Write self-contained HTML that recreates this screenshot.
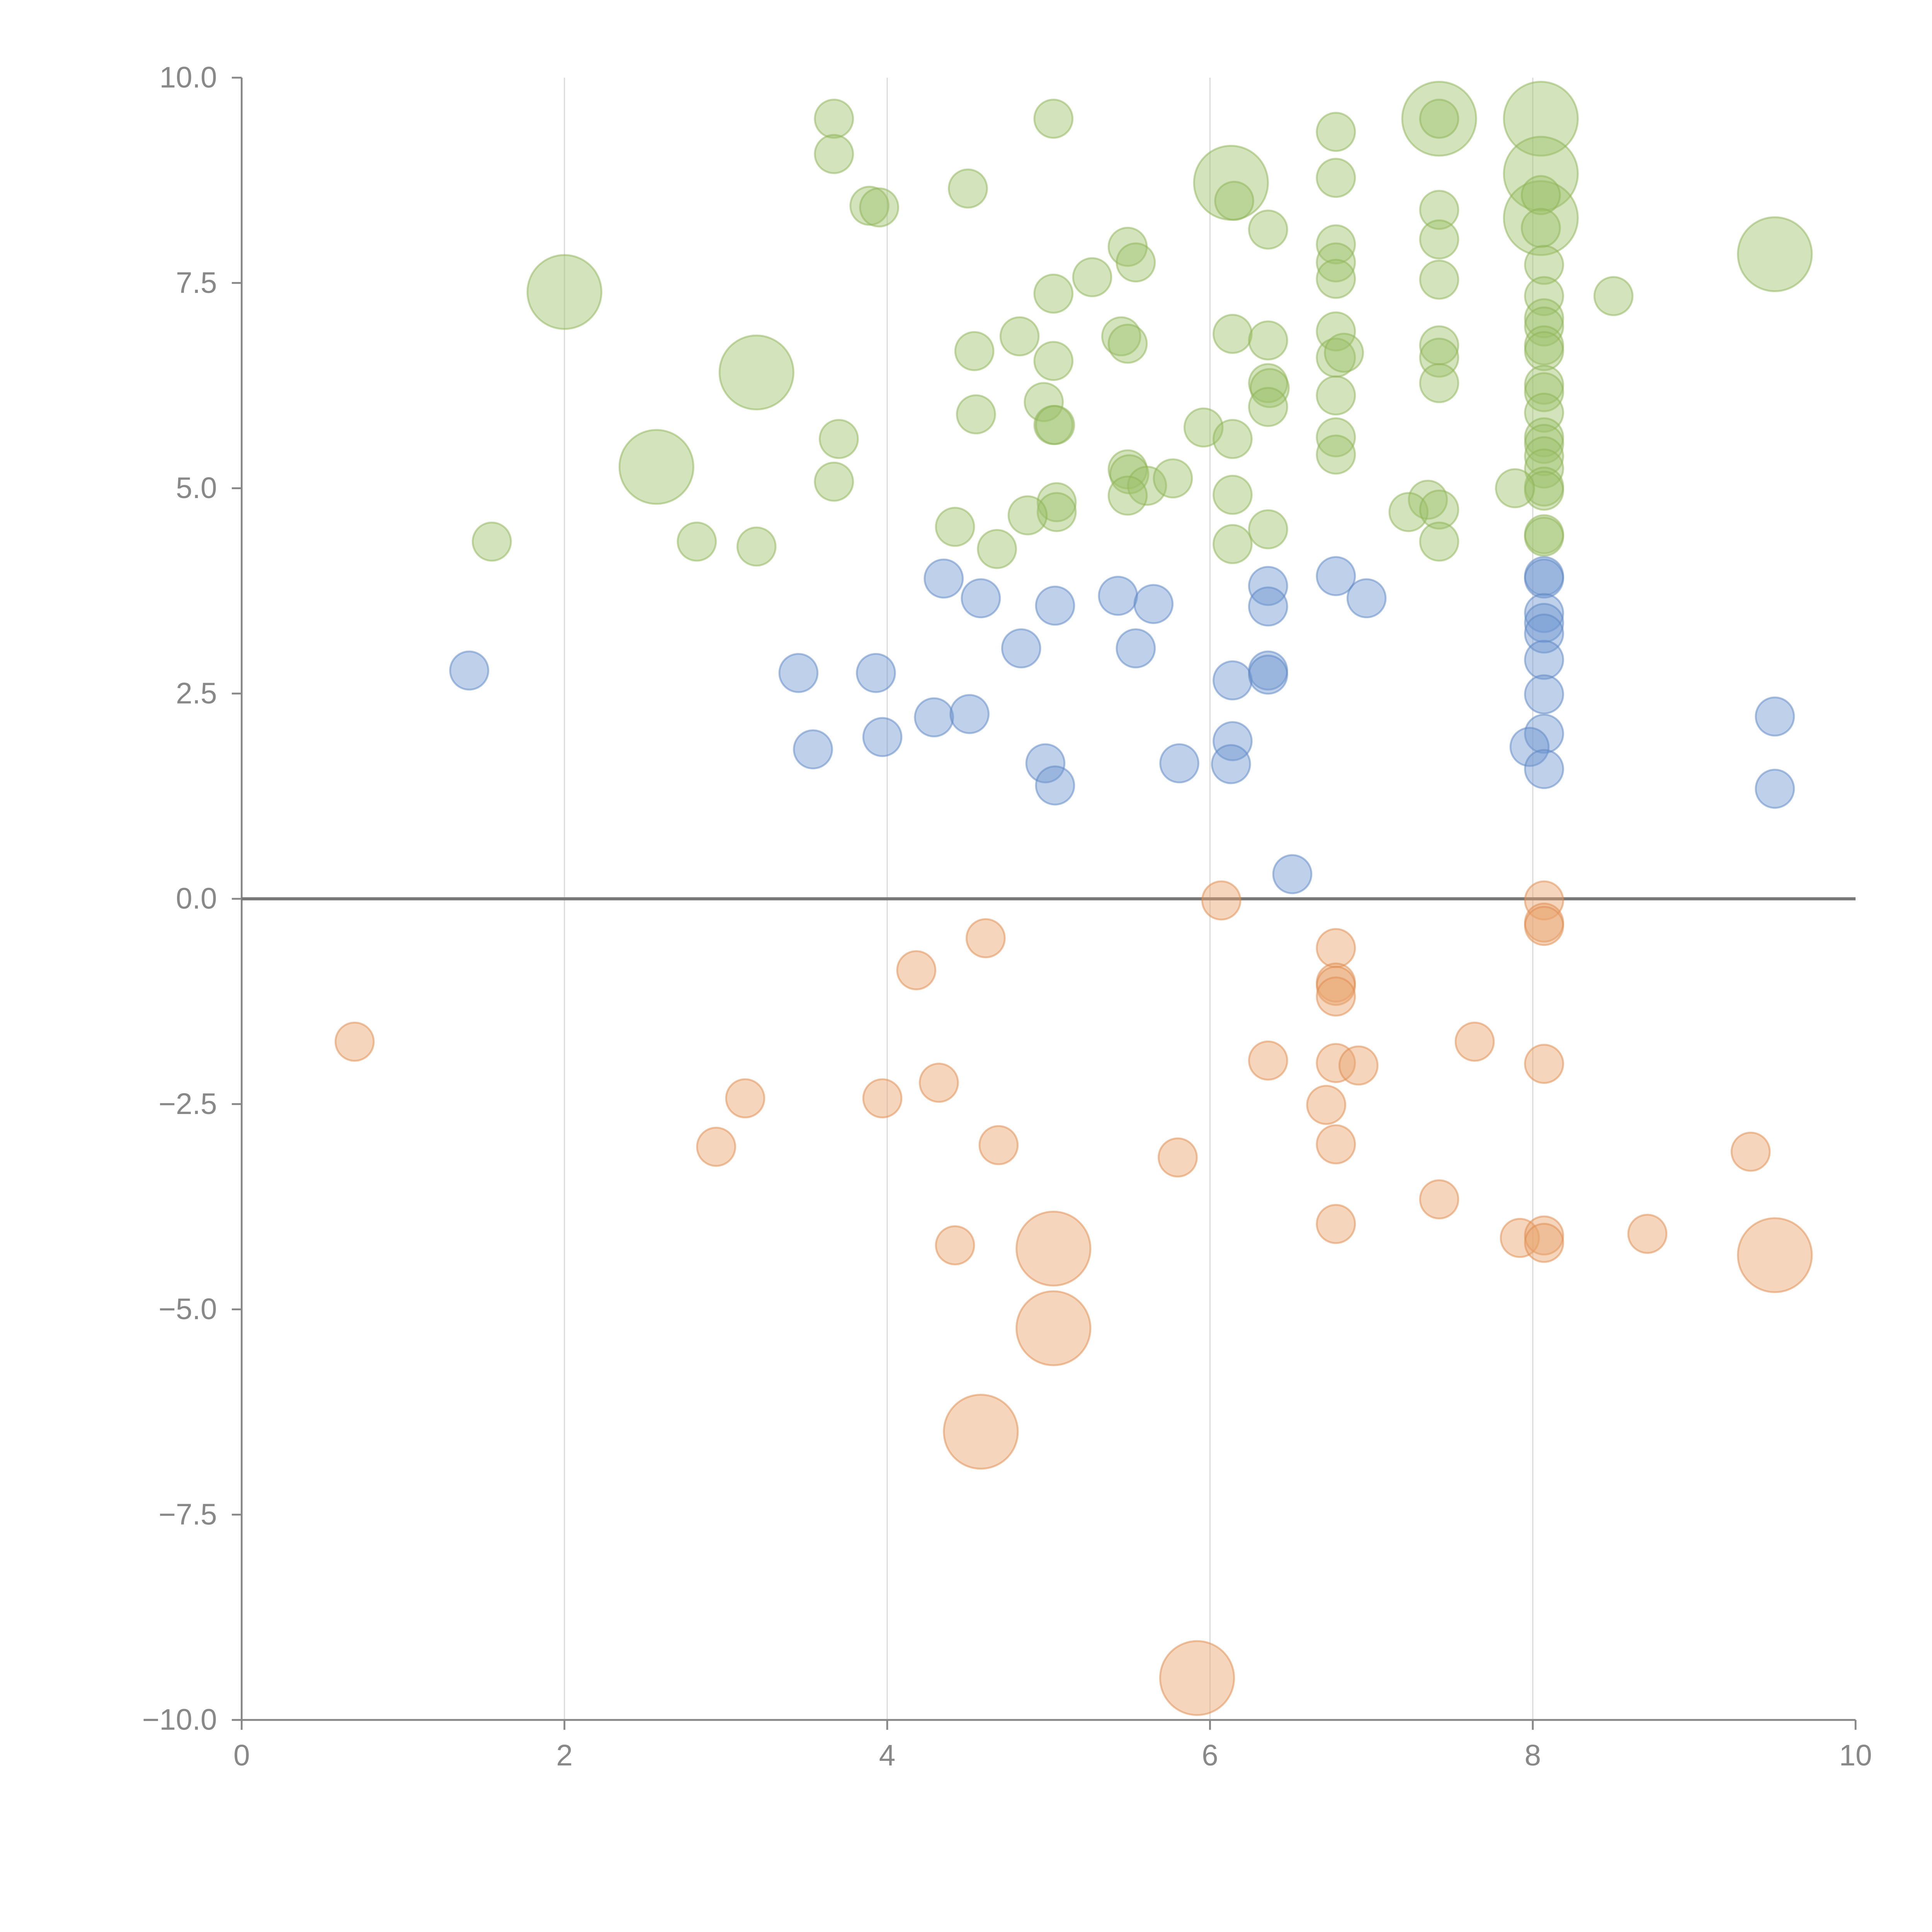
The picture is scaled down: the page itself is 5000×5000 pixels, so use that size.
<!DOCTYPE html>
<html><head><meta charset="utf-8">
<style>html,body{margin:0;padding:0;background:#fff;}svg{display:block;}</style>
</head><body>
<svg id="chart" xmlns="http://www.w3.org/2000/svg" width="5000" height="5000" viewBox="0 0 1567 1567">
<rect width="1567" height="1567" fill="#fff"/>
<g id="grid"></g>
<g id="axes"></g>
<g id="marks"></g>
</svg>
<script>
const xTicks=[0,2,4,6,8,10];
const yTicks=[-10,-7.5,-5,-2.5,0,2.5,5,7.5,10];
const yTickLabels=["\u221210.0","\u22127.5","\u22125.0","\u22122.5","0.0","2.5","5.0","7.5","10.0"];
const greenX=[3.67,3.67,5.03,4.5,3.89,3.95,6.78,7.42,7.42,8.05,6.13,6.15,6.78,8.05,8.05,7.42,6.36,7.42,6.78,8.05,8.05,5.49,5.54,6.78,6.78,7.42,8.07,9.5,2.0,5.03,5.27,8.5,8.07,8.07,8.07,8.07,8.07,8.07,8.07,8.07,8.07,8.07,8.07,8.07,8.07,8.07,8.07,8.07,3.19,2.57,4.54,4.82,5.45,5.49,5.03,6.14,6.36,6.78,6.78,6.83,7.42,7.42,7.42,6.36,6.37,6.36,6.78,4.97,4.55,5.03,5.04,5.96,6.14,6.78,6.78,3.7,3.67,5.49,5.5,5.61,5.77,5.05,5.05,4.87,5.49,6.14,7.89,7.35,7.23,7.42,7.42,6.14,6.36,4.42,4.68,3.19,2.82,1.55];
const greenY=[9.5,9.07,9.5,8.65,8.44,8.42,9.34,9.5,9.5,9.5,8.72,8.5,8.78,8.83,8.29,8.39,8.15,8.03,7.97,8.57,8.17,7.94,7.75,7.75,7.55,7.54,7.72,7.85,7.39,7.37,7.57,7.34,7.34,7.07,6.97,6.74,6.67,6.26,6.17,5.92,5.62,5.54,5.39,5.24,5.02,4.97,4.44,4.41,6.41,5.26,6.67,6.85,6.85,6.76,6.55,6.88,6.8,6.91,6.59,6.65,6.74,6.59,6.28,6.28,6.22,5.99,6.13,6.05,5.9,5.77,5.77,5.74,5.6,5.62,5.41,5.6,5.08,5.23,5.17,5.03,5.12,4.83,4.71,4.67,4.91,4.92,5.0,4.86,4.71,4.74,4.35,4.32,4.5,4.53,4.26,4.29,4.35,4.35];
const greenBig=[0,0,0,0,0,0,0,1,0,1,1,0,0,1,1,0,0,0,0,0,0,0,0,0,0,0,0,1,1,0,0,0,0,0,0,0,0,0,0,0,0,0,0,0,0,0,0,0,1,1,0,0,0,0,0,0,0,0,0,0,0,0,0,0,0,0,0,0,0,0,0,0,0,0,0,0,0,0,0,0,0,0,0,0,0,0,0,0,0,0,0,0,0,0,0,0,0,0];
const blueX=[1.41,3.45,3.93,3.54,3.97,4.29,4.51,4.35,4.58,5.04,4.83,5.43,5.65,5.54,4.98,5.04,5.81,6.14,6.14,6.13,6.36,6.36,6.36,6.36,6.78,6.97,6.51,8.07,8.07,8.07,8.07,8.07,8.07,8.07,8.07,7.98,8.07,9.5,9.5];
const blueY=[2.78,2.75,2.75,1.82,1.97,2.21,2.25,3.9,3.66,3.57,3.05,3.69,3.59,3.05,1.65,1.38,1.65,2.66,1.92,1.64,3.81,3.56,2.78,2.73,3.93,3.66,0.3,3.93,3.9,3.48,3.36,3.23,2.91,2.49,2.01,1.85,1.58,2.22,1.34];
const orangeX=[0.7,3.12,2.94,3.97,4.18,4.61,4.32,4.69,4.42,5.03,5.03,4.58,5.92,5.8,6.07,6.36,6.78,6.78,6.78,6.78,6.78,6.92,6.72,6.78,6.78,7.42,7.64,8.07,8.07,8.07,8.07,7.92,8.07,8.07,8.71,9.35,9.5];
const orangeY=[-1.74,-2.43,-3.02,-2.43,-0.87,-0.48,-2.24,-3.0,-4.22,-4.26,-5.23,-6.49,-9.49,-3.15,-0.02,-1.97,-0.6,-1.02,-1.06,-1.19,-2.0,-2.03,-2.51,-2.99,-3.96,-3.66,-1.74,-0.02,-0.29,-0.33,-2.01,-4.13,-4.1,-4.19,-4.08,-3.08,-4.34];
const orangeBig=[0,0,0,0,0,0,0,0,0,1,1,1,1,0,0,0,0,0,0,0,0,0,0,0,0,0,0,0,0,0,0,0,0,0,0,0,1];

const NS="http://www.w3.org/2000/svg";
const X0=196,X1=1505,Y0=1395,Y1=63;
function sx(v){return X0+(v-0)/(10-0)*(X1-X0);}
function sy(v){return Y0-(v+10)/20*(Y0-Y1);}
function mk(tag,attrs,parent){const e=document.createElementNS(NS,tag);for(const k in attrs)e.setAttribute(k,attrs[k]);parent.appendChild(e);return e;}
const grid=document.getElementById('grid'),axes=document.getElementById('axes'),marks=document.getElementById('marks');
xTicks.forEach(t=>{
  if(t>0&&t<10){const l=mk('line',{x1:sx(t),x2:sx(t),y1:Y1,y2:Y0,stroke:'#dcdcdc','stroke-width':1},grid);
  
  }
  const tk=mk('line',{x1:sx(t),x2:sx(t),y1:Y0,y2:Y0+8,stroke:'#888','stroke-width':1.5},axes);
  
  
  const tx=mk('text',{x:sx(t),y:Y0+37,'text-anchor':'middle','font-size':24,fill:'#888','font-family':'Liberation Sans, sans-serif'},axes);
  tx.textContent=String(t);
  
  
});
yTicks.forEach((t,i)=>{
  const tk=mk('line',{x1:X0-8,x2:X0,y1:sy(t),y2:sy(t),stroke:'#888','stroke-width':1.5},axes);
  
  
  const tx=mk('text',{x:X0-20,y:sy(t)+8,'text-anchor':'end','font-size':24,fill:'#888','font-family':'Liberation Sans, sans-serif'},axes);
  tx.textContent=yTickLabels[i];
  
  
});
const ya=mk('line',{x1:X0,x2:X0,y1:Y1,y2:Y0,stroke:'#888','stroke-width':1.5},axes);


const xa=mk('line',{x1:X0,x2:X1,y1:Y0,y2:Y0,stroke:'#888','stroke-width':1.5},axes);


const zl=mk('line',{x1:X0,x2:X1,y1:sy(0),y2:sy(0),stroke:'#777','stroke-width':2.5},axes);



function series(xs,ys,big,fill,stroke,name){
  xs.forEach((v,i)=>{
    const r=big&&big[i]?30:15.5;
    const c=mk('circle',{cx:sx(v),cy:sy(ys[i]),r:r,fill:fill,'fill-opacity':0.45,stroke:stroke,'stroke-opacity':0.5,'stroke-width':1.5},marks);
    
    
  });
}
series(greenX,greenY,greenBig,'#9ec26a','#8db456','green-bubble');
series(blueX,blueY,null,'#6f97d0','#5b85c4','blue-bubble');
series(orangeX,orangeY,orangeBig,'#e9a36d','#e08a4c','orange-bubble');
</script>
</body></html>
